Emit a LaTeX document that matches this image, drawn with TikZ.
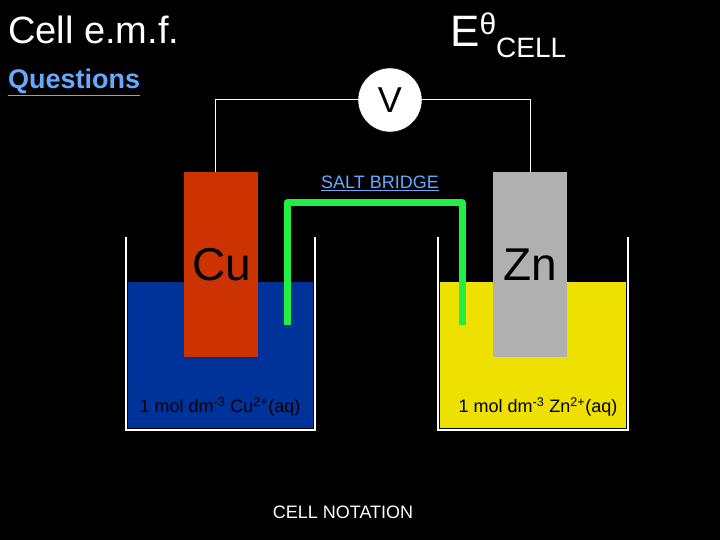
\documentclass[tikz,border=0pt]{standalone}
\usepackage{fontspec}
\setmainfont{Liberation Sans}
\usetikzlibrary{positioning}
\definecolor{linkblue}{HTML}{66AAFF}
\definecolor{copper}{HTML}{CC3300}
\definecolor{zinc}{HTML}{B0B0B0}
\definecolor{cusol}{HTML}{003399}
\definecolor{znsol}{HTML}{EEE000}
\definecolor{bridge}{HTML}{22EE44}
\tikzset{
  wire/.style={draw=white, line width=1pt},
  wall/.style={draw=white, line width=2.5pt},
  label/.style={font=\fontsize{18}{20}\selectfont, text=black, inner sep=0pt},
  metal/.style={font=\fontsize{46}{50}\selectfont, text=black, inner sep=0pt}
}
\begin{document}
\begin{tikzpicture}[x=1pt,y=-1pt]
\fill[black] (0,0) rectangle (720,540);
\useasboundingbox (0,0) rectangle (720,540);
% titles
\node[anchor=west, text=white, font=\fontsize{38}{42}\selectfont, inner sep=0pt] (title) at (8,30) {Cell e.m.f.};
\node[anchor=west, text=linkblue, font=\bfseries\fontsize{27}{30}\selectfont, inner sep=0pt] (quest) at (8,82) {\underline{Questions}};
\node[anchor=west, text=white, font=\fontsize{44}{48}\selectfont, inner sep=0pt] (ecell) at (450,35)
  {E\raisebox{0.55ex}{\fontsize{30}{32}\selectfont θ}\raisebox{-0.45ex}{\fontsize{28}{30}\selectfont CELL}};
% solutions
\fill[cusol] (128,282) rectangle (313,428);
\fill[znsol] (440,282) rectangle (626,428);
% electrodes
\node[fill=copper, minimum width=74pt, minimum height=185pt, anchor=north west, inner sep=0pt] (cu) at (184,172) {};
\node[fill=zinc, minimum width=74pt, minimum height=185pt, anchor=north west, inner sep=0pt] (zn) at (493,172) {};
% beaker walls
\draw[wall] (126,237) -- (126,430) -- (315,430) -- (315,237);
\draw[wall] (438,237) -- (438,430) -- (628,430) -- (628,237);
% voltmeter and wires
\node[circle, fill=white, draw=black, minimum size=64pt, inner sep=0pt, font=\fontsize{36}{40}\selectfont] (volt) at (390,100) {V};
\draw[wire] (volt.west) -- (215,100) -- (cu.north west -| 215,0);
\draw[wire] (volt.east) -- (530,100) -- (zn.north west -| 530,0);
% salt bridge
\draw[bridge, line width=7pt, line join=round] (287,325) -- (287,203) -- (462,203) -- (462,325);
\node[text=linkblue, font=\fontsize{18}{20}\selectfont, inner sep=0pt] (salt) at (380,183) {\underline{SALT BRIDGE}};
% labels
\node[metal] (cut) at (222,265) {Cu};
\node[metal] (znt) at (530,265) {Zn};
\node[label] (cuaq) at (220,407) {1 mol dm\textsuperscript{-3} Cu\textsuperscript{2+}(aq)};
\node[label] (znaq) at (538,407) {1 mol dm\textsuperscript{-3} Zn\textsuperscript{2+}(aq)};
\node[text=white, font=\fontsize{18}{20}\selectfont, inner sep=0pt] (notation) at (343,512) {CELL NOTATION};
\end{tikzpicture}
\end{document}
